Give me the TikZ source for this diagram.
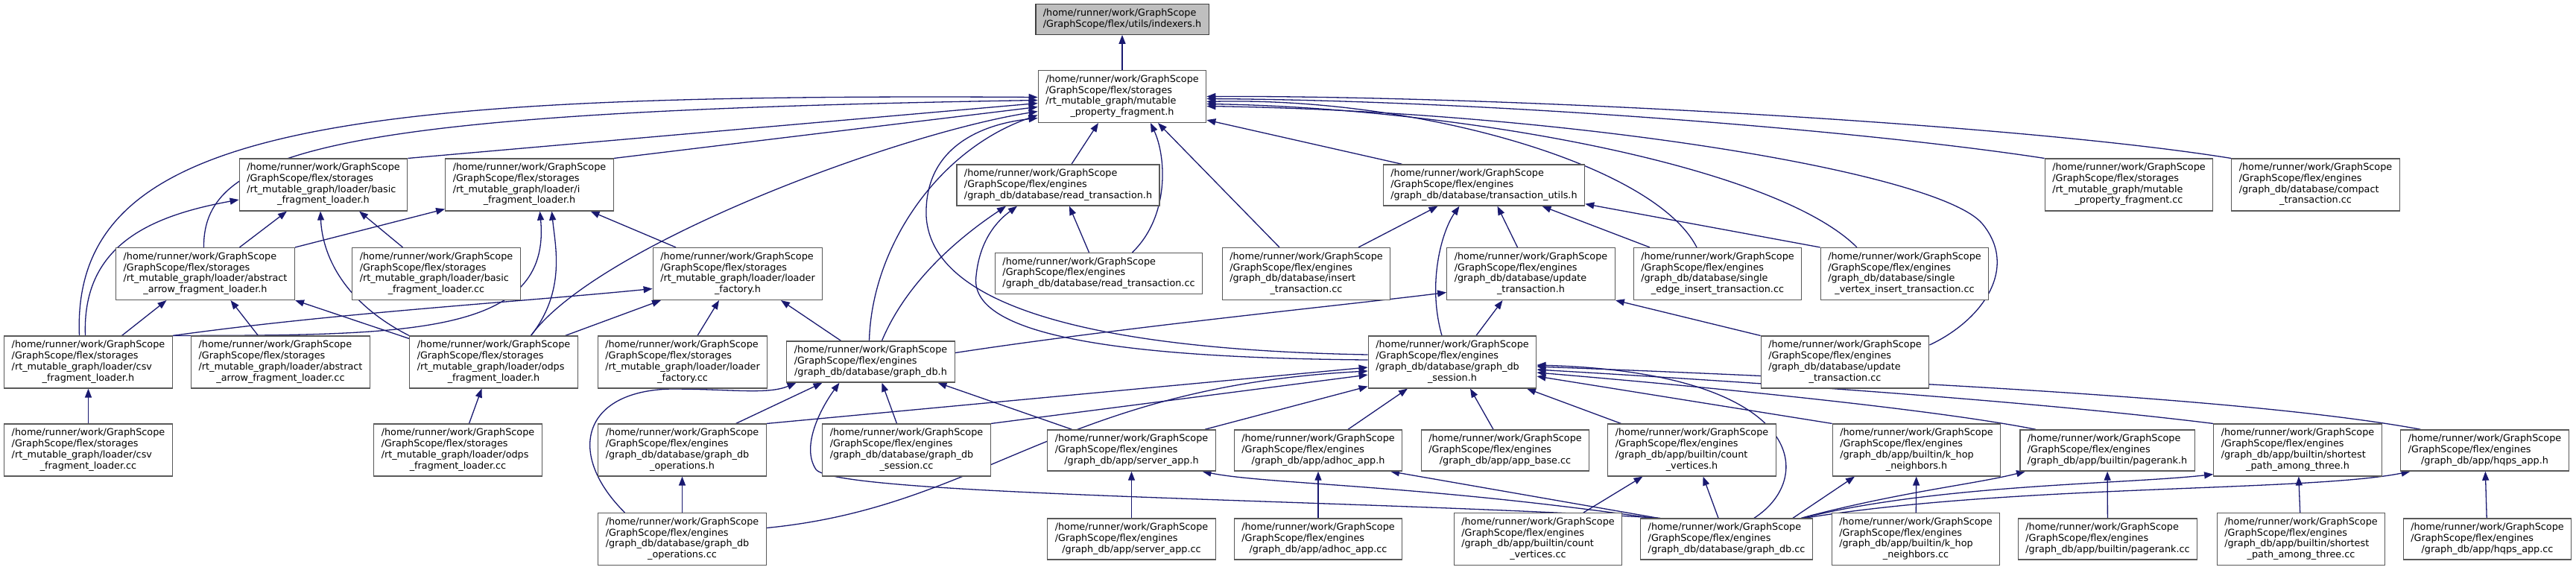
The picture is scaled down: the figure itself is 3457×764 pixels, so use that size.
\documentclass[tikz,border=0pt]{standalone}
\usepackage{fontspec}
\setmainfont{DejaVu Sans}
\usepackage{tikz}
\usetikzlibrary{arrows.meta,backgrounds}
\definecolor{edgeblue}{HTML}{191970}
\newcommand{\fpath}[2]{\begin{tabular}{@{}l@{}}#1\\\multicolumn{1}{@{}c@{}}{#2}\end{tabular}}
\newcommand{\stor}{/home/runner/work/GraphScope\\/GraphScope/flex/storages}
\newcommand{\engn}{/home/runner/work/GraphScope\\/GraphScope/flex/engines}

\begin{document}
\begin{tikzpicture}[x=1pt, y=-1pt,
  file/.style={draw=black!65, line width=1.3pt, fill=white, inner xsep=10pt, inner ysep=5.5pt,
               font=\fontsize{12.8}{14.7}\selectfont},
  root/.style={file, draw=black!75, fill=black!25},
  dep/.style={draw=edgeblue, line width=1.3pt, -{Triangle[length=12pt,width=9pt]}}
]
  \useasboundingbox (0,0) rectangle (3457,764);
  % Root and fragment header
  \node[root] (idx) at (1506, 26)  {\fpath{/home/runner/work/GraphScope}{/GraphScope/flex/utils/indexers.h}};
  \node[file] (mpf) at (1506, 129.5) {\fpath{\stor\\/rt\_mutable\_graph/mutable}{\_property\_fragment.h}};
  % Second row
  \node[file] (bflh)  at (434, 248)    {\fpath{\stor\\/rt\_mutable\_graph/loader/basic}{\_fragment\_loader.h}};
  \node[file] (iflh)  at (710.5, 248)  {\fpath{\stor\\/rt\_mutable\_graph/loader/i}{\_fragment\_loader.h}};
  \node[file] (rtxh)  at (1420, 248.5) {\fpath{\engn}{/graph\_db/database/read\_transaction.h}};
  \node[file] (tuh)   at (1991.5, 248.5) {\fpath{\engn}{/graph\_db/database/transaction\_utils.h}};
  \node[file] (mpfcc) at (2857, 248)   {\fpath{\stor\\/rt\_mutable\_graph/mutable}{\_property\_fragment.cc}};
  \node[file] (ctcc)  at (3107.5, 248) {\fpath{\engn\\/graph\_db/database/compact}{\_transaction.cc}};
  % Third row
  \node[file] (aaflh)  at (275.5, 367.5) {\fpath{\stor\\/rt\_mutable\_graph/loader/abstract}{\_arrow\_fragment\_loader.h}};
  \node[file] (bflcc)  at (585.5, 367.5) {\fpath{\stor\\/rt\_mutable\_graph/loader/basic}{\_fragment\_loader.cc}};
  \node[file] (lfh)    at (990, 367.5)   {\fpath{\stor\\/rt\_mutable\_graph/loader/loader}{\_factory.h}};
  \node[file] (rtxcc)  at (1474.5, 367)  {\fpath{\engn}{/graph\_db/database/read\_transaction.cc}};
  \node[file] (itcc)   at (1753, 367.5)  {\fpath{\engn\\/graph\_db/database/insert}{\_transaction.cc}};
  \node[file] (uth)    at (2054.5, 367.5) {\fpath{\engn\\/graph\_db/database/update}{\_transaction.h}};
  \node[file] (seitcc) at (2305, 367.5)  {\fpath{\engn\\/graph\_db/database/single}{\_edge\_insert\_transaction.cc}};
  \node[file] (svitcc) at (2556, 367.5)  {\fpath{\engn\\/graph\_db/database/single}{\_vertex\_insert\_transaction.cc}};
  % Fourth row
  \node[file] (csvh)   at (118.5, 486)  {\fpath{\stor\\/rt\_mutable\_graph/loader/csv}{\_fragment\_loader.h}};
  \node[file] (aaflcc) at (376.5, 486)  {\fpath{\stor\\/rt\_mutable\_graph/loader/abstract}{\_arrow\_fragment\_loader.cc}};
  \node[file] (odpsh)  at (662.5, 486)  {\fpath{\stor\\/rt\_mutable\_graph/loader/odps}{\_fragment\_loader.h}};
  \node[file] (lfcc)   at (916, 486)    {\fpath{\stor\\/rt\_mutable\_graph/loader/loader}{\_factory.cc}};
  \node[file] (gdbh)   at (1168.5, 485.5) {\fpath{\engn}{/graph\_db/database/graph\_db.h}};
  \node[file] (sessh)  at (1949, 486)   {\fpath{\engn\\/graph\_db/database/graph\_db}{\_session.h}};
  \node[file] (utcc)   at (2476, 486)   {\fpath{\engn\\/graph\_db/database/update}{\_transaction.cc}};
  % Fifth row
  \node[file] (csvcc)   at (118.5, 604)  {\fpath{\stor\\/rt\_mutable\_graph/loader/csv}{\_fragment\_loader.cc}};
  \node[file] (odpscc)  at (614.5, 604)  {\fpath{\stor\\/rt\_mutable\_graph/loader/odps}{\_fragment\_loader.cc}};
  \node[file] (opsh)    at (915.5, 604)  {\fpath{\engn\\/graph\_db/database/graph\_db}{\_operations.h}};
  \node[file] (sesscc)  at (1216.5, 604) {\fpath{\engn\\/graph\_db/database/graph\_db}{\_session.cc}};
  \node[file] (serverh) at (1518.5, 604.5) {\fpath{\engn}{/graph\_db/app/server\_app.h}};
  \node[file] (adhoch)  at (1769, 604.5)  {\fpath{\engn}{/graph\_db/app/adhoc\_app.h}};
  \node[file] (basecc)  at (2020, 604.5)  {\fpath{\engn}{/graph\_db/app/app\_base.cc}};
  \node[file] (cvh)     at (2270.5, 604)  {\fpath{\engn\\/graph\_db/app/builtin/count}{\_vertices.h}};
  \node[file] (khoph)   at (2572, 604)    {\fpath{\engn\\/graph\_db/app/builtin/k\_hop}{\_neighbors.h}};
  \node[file] (prh)     at (2828, 604.5)  {\fpath{\engn}{/graph\_db/app/builtin/pagerank.h}};
  \node[file] (spath)   at (3083.5, 604)  {\fpath{\engn\\/graph\_db/app/builtin/shortest}{\_path\_among\_three.h}};
  \node[file] (hqpsh)   at (3334.5, 604.5) {\fpath{\engn}{/graph\_db/app/hqps\_app.h}};
  % Bottom row
  \node[file] (opscc)    at (915.5, 723.5)  {\fpath{\engn\\/graph\_db/database/graph\_db}{\_operations.cc}};
  \node[file] (servercc) at (1518.5, 723.5) {\fpath{\engn}{/graph\_db/app/server\_app.cc}};
  \node[file] (adhoccc)  at (1769, 723.5)   {\fpath{\engn}{/graph\_db/app/adhoc\_app.cc}};
  \node[file] (cvcc)     at (2064, 723.5)   {\fpath{\engn\\/graph\_db/app/builtin/count}{\_vertices.cc}};
  \node[file] (gdbcc)    at (2317, 723.5)   {\fpath{\engn}{/graph\_db/database/graph\_db.cc}};
  \node[file] (khopcc)   at (2571, 723.5)   {\fpath{\engn\\/graph\_db/app/builtin/k\_hop}{\_neighbors.cc}};
  \node[file] (prcc)     at (2828.5, 723.5) {\fpath{\engn}{/graph\_db/app/builtin/pagerank.cc}};
  \node[file] (spatcc)   at (3088, 723.5)   {\fpath{\engn\\/graph\_db/app/builtin/shortest}{\_path\_among\_three.cc}};
  \node[file] (hqpscc)   at (3338, 723.5)   {\fpath{\engn}{/graph\_db/app/hqps\_app.cc}};
  \begin{scope}[on background layer]
    % Into the fragment header
    \draw[dep] (mpf) -- (idx);
    \draw[dep] ([xshift=-12]csvh.north) .. controls (95,170) and (450,125) .. ([yshift=-1]mpf.west);
    \draw[dep] ([xshift=-2]aaflh.north) .. controls (272,200) and (450,150) .. ([yshift=-5]mpf.west);
    \draw[dep] (bflh.north east) -- ([yshift=-9]mpf.west);
    \draw[dep] (iflh.north east) -- ([yshift=-14]mpf.west);
    \draw[dep] ([xshift=50]odpsh.north) .. controls (800,330) and (1200,180) .. ([yshift=-20]mpf.west);
    \draw[dep] ([xshift=-2]gdbh.north) .. controls (1170,330) and (1260,200) .. ([yshift=-25]mpf.west);
    \draw[dep] ([yshift=10]sessh.west) .. controls (1500,470) and (1250,420) .. (1243,290)
                 .. controls (1240,190) and (1330,165) .. ([yshift=-29]mpf.west);
    \draw[dep] ([xshift=18]rtxh.north) -- ([xshift=-32]mpf.south);
    \draw[dep] ([xshift=45]rtxcc.north) .. controls (1570,290) and (1565,210) .. ([xshift=38]mpf.south);
    \draw[dep] ([xshift=-36]itcc.north) -- ([xshift=48]mpf.south);
    \draw[dep] ([xshift=-110]tuh.north) -- ([yshift=4]mpf.south east);
    \draw[dep] (ctcc.north west) .. controls (2700,165) and (2000,128) .. (mpf.east);
    \draw[dep] (mpfcc.north west) .. controls (2500,175) and (2000,135) .. ([yshift=-3]mpf.east);
    \draw[dep] ([xshift=-28]seitcc.north) .. controls (2220,220) and (1900,130) .. ([yshift=-7]mpf.east);
    \draw[dep] ([xshift=-64]svitcc.north) .. controls (2380,220) and (1950,145) .. ([yshift=-10]mpf.east);
    \draw[dep] ([yshift=23]utcc.east) .. controls (2660,430) and (2710,360) .. (2660,300)
                 .. controls (2600,230) and (2100,150) .. ([yshift=-13]mpf.east);
    % Loaders
    \draw[dep] ([xshift=-4]csvh.north) .. controls (110,330) and (200,290) .. ([yshift=-20]bflh.west);
    \draw[dep] ([xshift=46]aaflh.north) -- ([xshift=-49]bflh.south);
    \draw[dep] (odpsh.north west) .. controls (450,400) and (432,330) .. ([xshift=-4]bflh.south);
    \draw[dep] ([xshift=-45]bflcc.north) -- ([xshift=48]bflh.south);
    \draw[dep] (aaflh.north east) -- ([yshift=3]iflh.south west);
    \draw[dep] (csvh.north east) .. controls (550,450) and (740,450) .. ([xshift=14]iflh.south);
    \draw[dep] ([xshift=50]odpsh.north) .. controls (760,390) and (745,330) .. ([xshift=30]iflh.south);
    \draw[dep] ([xshift=-83]lfh.north) -- ([xshift=82]iflh.south);
    \draw[dep] ([xshift=45]csvh.north) -- ([xshift=-52]aaflh.south);
    \draw[dep] ([yshift=-4]odpsh.north west) -- (aaflh.south east);
    \draw[dep] ([xshift=-30]aaflcc.north) -- ([xshift=34]aaflh.south);
    \draw[dep] (csvh.north east) .. controls (450,420) and (700,405) .. ([yshift=-20]lfh.west);
    \draw[dep] ([xshift=96]odpsh.north) -- ([xshift=-103]lfh.south);
    \draw[dep] ([xshift=20]lfcc.north) -- ([xshift=-25]lfh.south);
    \draw[dep] ([xshift=-40]gdbh.north) -- ([xshift=58]lfh.south);
    \draw[dep] (csvcc) -- (csvh);
    \draw[dep] ([xshift=15]odpscc.north) -- ([xshift=-16]odpsh.south);
    % Transactions
    \draw[dep] ([xshift=-13]rtxcc.north) -- ([xshift=15]rtxh.south);
    \draw[dep] ([xshift=15]gdbh.north) .. controls (1220,370) and (1300,310) .. ([xshift=-70]rtxh.south);
    \draw[dep] ([yshift=3]sessh.west) .. controls (1450,480) and (1300,440) .. (1310,370)
                 .. controls (1315,320) and (1340,295) .. ([xshift=-55]rtxh.south);
    \draw[dep] ([xshift=70]itcc.north) -- ([xshift=-62]tuh.south);
    \draw[dep] ([xshift=-14]sessh.north) .. controls (1915,380) and (1935,310) .. ([xshift=-33]tuh.south);
    \draw[dep] ([xshift=-18]uth.north) -- ([xshift=18]tuh.south);
    \draw[dep] ([xshift=-91]seitcc.north) -- ([xshift=78]tuh.south);
    \draw[dep] (svitcc.north west) -- ([yshift=3]tuh.south east);
    \draw[dep] ([xshift=32]sessh.north) -- ([xshift=-38]uth.south);
    \draw[dep] ([yshift=12]gdbh.east) .. controls (1500,440) and (1800,410) .. ([yshift=-25]uth.west);
    \draw[dep] (utcc.north west) -- (uth.south east);
    % Session header
    \draw[dep] (opsh.north east) -- ([yshift=-7]sessh.west);
    \draw[dep] ([yshift=15]opscc.east) .. controls (1320,680) and (1420,520) .. ([yshift=-12]sessh.west);
    \draw[dep] (sesscc.north east) -- ([yshift=-17]sessh.west);
    \draw[dep] ([xshift=-15]serverh.north east) -- ([yshift=3]sessh.south west);
    \draw[dep] ([xshift=40]adhoch.north) -- ([xshift=-60]sessh.south);
    \draw[dep] ([xshift=-16]basecc.north) -- ([xshift=24]sessh.south);
    \draw[dep] ([xshift=-95]cvh.north) -- ([xshift=100]sessh.south);
    \draw[dep] (khoph.north west) -- ([yshift=-19]sessh.east);
    \draw[dep] ([xshift=-96]prh.north) .. controls (2600,550) and (2300,520) .. ([yshift=-14]sessh.east);
    \draw[dep] (spath.north west) .. controls (2700,535) and (2300,510) .. ([yshift=-10]sessh.east);
    \draw[dep] ([xshift=-86]hqpsh.north) .. controls (3000,530) and (2400,505) .. ([yshift=-6]sessh.east);
    \draw[dep] ([xshift=37]gdbcc.north) .. controls (2440,640) and (2420,500) .. ([yshift=-4]sessh.east);
    % Database header
    \draw[dep] ([xshift=72]opsh.north) -- ([xshift=-65]gdbh.south);
    \draw[dep] ([xshift=-77]opscc.north) .. controls (760,610) and (780,525) .. (900,522)
                 .. controls (980,522) and (1030,530) .. ([xshift=-100]gdbh.south);
    \draw[dep] ([xshift=-13]sesscc.north) -- ([xshift=15]gdbh.south);
    \draw[dep] ([xshift=-80]serverh.north) -- ([xshift=90]gdbh.south);
    \draw[dep] ([xshift=-89]gdbcc.north) .. controls (1800,670) and (1120,665) .. (1095,630)
                 .. controls (1075,600) and (1100,550) .. ([xshift=-42]gdbh.south);
    \draw[dep] (opscc) -- (opsh);
    % Apps
    \draw[dep] (servercc) -- (serverh);
    \draw[dep] (adhoccc) -- (adhoch);
    \draw[dep] ([xshift=-100]gdbcc.north) .. controls (1900,650) and (1700,650) .. ([xshift=95]serverh.south);
    \draw[dep] ([xshift=-92]gdbcc.north) -- ([xshift=97]adhoch.south);
    \draw[dep] ([xshift=61]cvcc.north) -- ([xshift=-66]cvh.south);
    \draw[dep] ([xshift=-11]gdbcc.north) -- ([xshift=15]cvh.south);
    \draw[dep] ([xshift=89]gdbcc.north) -- ([xshift=-83]khoph.south);
    \draw[dep] (khopcc) -- (khoph);
    \draw[dep] ([xshift=100]gdbcc.north) .. controls (2550,660) and (2650,650) .. ([xshift=-110]prh.south);
    \draw[dep] ([xshift=102]gdbcc.north) .. controls (2600,650) and (2850,650) .. ([yshift=3]spath.south west);
    \draw[dep] ([xshift=105]gdbcc.north) .. controls (2700,650) and (3100,660) .. ([xshift=-100]hqpsh.south);
    \draw[dep] (prcc) -- (prh);
    \draw[dep] (spatcc) -- (spath);
    \draw[dep] (hqpscc) -- (hqpsh);
  \end{scope}
\end{tikzpicture}
\end{document}
